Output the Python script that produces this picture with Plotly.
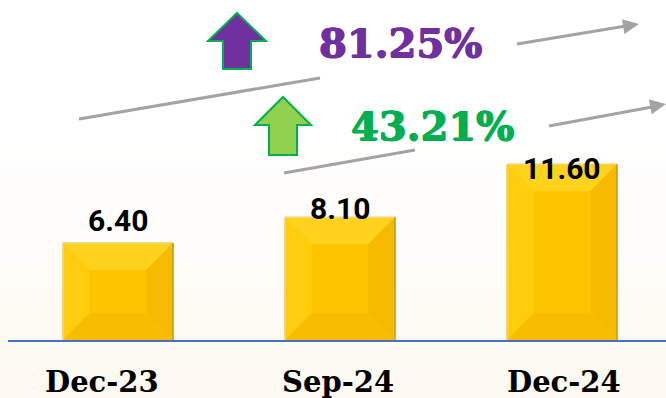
import plotly.graph_objects as go

# ---- data -------------------------------------------------------------
categories = ["Dec-23", "Sep-24", "Dec-24"]
values = [6.40, 8.10, 11.60]
value_labels = ["6.40", "8.10", "11.60"]
growth_labels = ["81.25%", "43.21%"]

# ---- canvas helpers -----------------------------------------------------
W, H = 666, 398


def px(x):
    return x / W


def py(y):
    return 1 - y / H


def poly_path(points):
    return "M " + " L ".join(f"{px(x)},{py(y)}" for x, y in points) + " Z"


def heavy(color):
    # faint offset copies thicken the strokes of the headline figures
    return f"0.7px 0 0 {color}, -0.7px 0 0 {color}, 0 0.5px 0 {color}"


fig = go.Figure()

# plain bars (base colour)
BAR_W = 0.495
fig.add_trace(go.Bar(
    x=list(range(len(categories))), y=values, width=BAR_W,
    marker=dict(color="#FFC400", line=dict(color="#D8AE45", width=1)),
    hoverinfo="skip", showlegend=False,
))

# bevelled facets computed from each bar's value
BX, BY = 0.12, 1.78
facet_colors = {
    "top": "#FFD21E",
    "left": "#FFCD0E",
    "right": "#F6BA00",
    "bottom": "#F9BD00",
}
for i, v in enumerate(values):
    x0, x1 = i - BAR_W / 2, i + BAR_W / 2
    ix0, ix1 = x0 + BX, x1 - BX
    iy0, iy1 = BY, max(v - BY, BY)
    facets = {
        "top": ([x0, x1, ix1, ix0], [v, v, iy1, iy1]),
        "left": ([x0, ix0, ix0, x0], [0, iy0, iy1, v]),
        "right": ([x1, x1, ix1, ix1], [0, v, iy1, iy0]),
        "bottom": ([x0, x1, ix1, ix0], [0, 0, iy0, iy0]),
    }
    for name, (fx, fy) in facets.items():
        fig.add_trace(go.Scatter(
            x=fx + [fx[0]], y=fy + [fy[0]], fill="toself", mode="lines",
            fillcolor=facet_colors[name], line=dict(width=0),
            hoverinfo="skip", showlegend=False,
        ))
    # rim highlights / shadow
    fig.add_trace(go.Scatter(
        x=[x0, x0, x1], y=[0, v, v], mode="lines",
        line=dict(color="#F3D77C", width=1.2), hoverinfo="skip", showlegend=False,
    ))
    fig.add_trace(go.Scatter(
        x=[x1, x1], y=[v, 0], mode="lines",
        line=dict(color="#C99B1E", width=1.5), hoverinfo="skip", showlegend=False,
    ))

shapes = []

# soft cream wash towards the bottom of the canvas
top_y, steps = 140, 40
c0, c1 = (255, 255, 255), (253, 249, 240)
for k in range(steps):
    t = (k + 0.5) / steps
    col = tuple(round(a + (b - a) * t) for a, b in zip(c0, c1))
    ya = top_y + (H - top_y) * k / steps
    yb = top_y + (H - top_y) * (k + 1) / steps
    shapes.append(dict(
        type="rect", xref="paper", yref="paper", x0=0, x1=1,
        y0=py(yb), y1=py(ya), fillcolor=f"rgb{col}", line=dict(width=0),
        layer="below",
    ))
shapes.append(dict(
    type="rect", xref="paper", yref="paper", x0=0, x1=1,
    y0=0, y1=py(H - (H - top_y) / steps * 0.5), fillcolor=f"rgb{c1}",
    line=dict(width=0), layer="below",
))

# grey trend arrows
GREY = "#A3A3A3"


def trend(segments, tip_from, tip):
    for (a, b) in segments:
        shapes.append(dict(
            type="line", xref="paper", yref="paper",
            x0=px(a[0]), y0=py(a[1]), x1=px(b[0]), y1=py(b[1]),
            line=dict(color=GREY, width=3),
        ))
    dx, dy = tip[0] - tip_from[0], tip[1] - tip_from[1]
    n = (dx * dx + dy * dy) ** 0.5
    ux, uy = dx / n, dy / n
    L, hw = 16, 7.5
    bx, by = tip[0] - ux * L, tip[1] - uy * L
    head = [tip, (bx - uy * hw, by + ux * hw), (bx + uy * hw, by - ux * hw)]
    shapes.append(dict(
        type="path", xref="paper", yref="paper", path=poly_path(head),
        fillcolor=GREY, line=dict(width=0),
    ))


trend([((79, 119), (320, 78)), ((517, 44), (626, 26))], (517, 44), (639, 24))
trend([((284, 173), (415, 150)), ((549, 126), (652, 107))], (549, 126), (666, 104))

# block up-arrows
purple_arrow = [(237, 13), (266, 41), (251, 41), (251, 69), (223, 69), (223, 41), (208, 41)]
green_arrow = [(283, 97), (311, 125), (297, 125), (297, 155), (269, 155), (269, 125), (255, 125)]
shapes.append(dict(type="path", xref="paper", yref="paper", path=poly_path(purple_arrow),
                   fillcolor="#7030A0", line=dict(color="#00B050", width=2)))
shapes.append(dict(type="path", xref="paper", yref="paper", path=poly_path(green_arrow),
                   fillcolor="#92D050", line=dict(color="#00B050", width=2)))

annotations = []

# value labels above bars
label_shift = [3, -11, -24]
for i, (v, t) in enumerate(zip(values, value_labels)):
    annotations.append(dict(
        x=i, y=v, xref="x", yref="y", text=t, showarrow=False,
        yanchor="bottom", yshift=label_shift[i],
        font=dict(family="Roboto", size=30, color="#000000", weight="bold"),
    ))

# category labels
cat_shift = [-16, -2, 2]
for i, c in enumerate(categories):
    annotations.append(dict(
        x=i, y=py(382), xref="x", yref="paper", text=c, showarrow=False,
        yanchor="middle", xshift=cat_shift[i],
        font=dict(family="DejaVu Serif", size=29, color="#000000", weight="bold"),
    ))

# growth percentages
annotations.append(dict(
    x=px(400), y=py(43), xref="paper", yref="paper", text=growth_labels[0],
    showarrow=False, yanchor="middle",
    font=dict(family="DejaVu Serif", size=40, color="#7030A0", weight="bold",
              shadow=heavy("#7030A0")),
))
annotations.append(dict(
    x=px(432), y=py(126), xref="paper", yref="paper", text=growth_labels[1],
    showarrow=False, yanchor="middle",
    font=dict(family="DejaVu Serif", size=40, color="#00B050", weight="bold",
              shadow=heavy("#00B050")),
))

PX_PER_UNIT = 15.15
fig.update_layout(
    width=W, height=H,
    margin=dict(l=0, r=0, t=0, b=0),
    paper_bgcolor="rgba(0,0,0,0)",
    plot_bgcolor="rgba(0,0,0,0)",
    shapes=shapes,
    annotations=annotations,
    xaxis=dict(
        domain=[8 / W, 1], range=[-0.4955, -0.4955 + (W - 8) / 222],
        showgrid=False, zeroline=False, showticklabels=False, ticks="",
        showline=True, linecolor="#4472C4", linewidth=2,
    ),
    yaxis=dict(
        domain=[58 / H, 1], range=[0, 340 / PX_PER_UNIT],
        showgrid=False, zeroline=False, showticklabels=False, ticks="",
        showline=False,
    ),
    showlegend=False,
)

fig.write_html("out.html")
